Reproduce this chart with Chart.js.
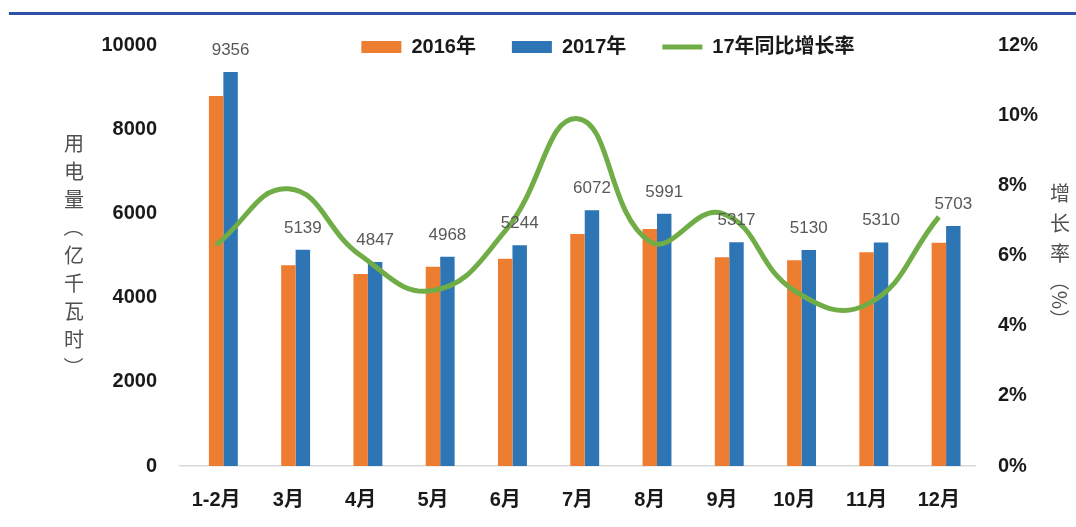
<!DOCTYPE html>
<html>
<head>
<meta charset="utf-8">
<script src="https://cdn.jsdelivr.net/npm/chart.js@4.4.0/dist/chart.umd.min.js"></script>
<style>
    html, body { margin: 0; padding: 0; background: #fff; }
    #contenedor { position: relative; width: 1076px; height: 527px; }
    #lineaSuperior { position: absolute; left: 9px; right: 0; top: 12px; height: 0; border-top: 3px solid #3050a8; }
    canvas { position: absolute; left: 0; top: 0; }
</style>
</head>
<body>
<div id="contenedor">
    <div id="lineaSuperior"></div>
    <canvas id="graficoConsumo" width="1076" height="527"></canvas>
</div>
<script>
// Datos
const meses = ['1-2月', '3月', '4月', '5月', '6月', '7月', '8月', '9月', '10月', '11月', '12月'];
const consumo2016 = [8790, 4770, 4560, 4730, 4920, 5510, 5630, 4960, 4890, 5080, 5300];
const consumo2017 = [9356, 5139, 4847, 4968, 5244, 6072, 5991, 5317, 5130, 5310, 5703];
const crecimiento17 = [6.3, 7.9, 6.0, 5.0, 6.7, 9.9, 6.4, 7.2, 5.0, 4.6, 7.1]; // %
const etiquetas = ['2016年', '2017年', '17年同比增长率'];
const tituloIzquierdo = '用电量（亿千瓦时）';
const tituloDerecho = '增长率';
const tituloDerechoUnidad = '（%）';

const colorNaranja = '#ED7D31';
const colorAzul = '#2E75B6';
const colorVerde = '#70AD47';
const fuenteNumeros = "'Liberation Sans Narrow', 'Liberation Sans', 'Noto Sans CJK SC', sans-serif";
const fuenteCJK = "'Noto Sans CJK SC', sans-serif";

// Escribe un texto en columna, girando los paréntesis como en el original
function escribirVertical(ctx, texto, x, y, paso) {
    for (const letra of texto) {
        if ('（）'.includes(letra)) {
            ctx.save();
            ctx.translate(x, y);
            ctx.rotate(Math.PI / 2);
            ctx.fillText(letra, 0, 0);
            ctx.restore();
        } else {
            ctx.fillText(letra, x, y);
        }
        y += paso;
    }
}

const titulosEjes = {
    id: 'titulosEjes',
    afterDraw(chart) {
        const ctx = chart.ctx;
        ctx.save();
        ctx.fillStyle = '#505050';
        ctx.font = '20px ' + fuenteCJK;
        ctx.textAlign = 'center';
        ctx.textBaseline = 'middle';
        escribirVertical(ctx, tituloIzquierdo, 74, 143, 28);
        escribirVertical(ctx, tituloDerecho, 1060, 193, 30);
        ctx.translate(1060, 300);
        ctx.rotate(Math.PI / 2);
        ctx.fillText(tituloDerechoUnidad, 0, 0);
        ctx.restore();
    }
};

const etiquetasDatos = {
    id: 'etiquetasDatos',
    afterDatasetsDraw(chart) {
        const ctx = chart.ctx;
        const meta = chart.getDatasetMeta(2);
        ctx.save();
        ctx.fillStyle = '#595959';
        ctx.font = '17px ' + fuenteNumeros;
        ctx.textAlign = 'center';
        ctx.textBaseline = 'alphabetic';
        meta.data.forEach((barra, i) => {
            ctx.fillText(String(consumo2017[i]), barra.x, barra.y - 17);
        });
        ctx.restore();
    }
};

// La leyenda casi no ocupa alto en el layout; luego se coloca a la altura del primer valor del eje
const moverLeyenda = {
    id: 'moverLeyenda',
    afterLayout(chart) {
        const leyenda = chart.legend;
        leyenda.top = 1;
        leyenda.bottom = 1 + 70;
        leyenda.left += 70;
        leyenda.right += 70;
    }
};

const ctx = document.getElementById('graficoConsumo').getContext('2d');
new Chart(ctx, {
    data: {
        labels: meses,
        datasets: [
            {
                // hueco vacío a la izquierda de cada grupo
                type: 'bar',
                label: '',
                data: meses.map(() => null),
                backgroundColor: 'rgba(0,0,0,0)',
                yAxisID: 'y',
                order: 2
            },
            {
                type: 'bar',
                label: etiquetas[0],
                data: consumo2016,
                backgroundColor: colorNaranja,
                borderWidth: 0,
                pointStyle: 'rect',
                yAxisID: 'y',
                order: 2
            },
            {
                type: 'bar',
                label: etiquetas[1],
                data: consumo2017,
                backgroundColor: colorAzul,
                borderWidth: 0,
                pointStyle: 'rect',
                yAxisID: 'y',
                order: 2
            },
            {
                type: 'line',
                label: etiquetas[2],
                data: crecimiento17,
                borderColor: colorVerde,
                backgroundColor: colorVerde,
                borderWidth: 5,
                pointRadius: 0,
                pointStyle: 'line',
                tension: 0.45,
                yAxisID: 'y1',
                order: 0
            }
        ]
    },
    options: {
        responsive: false,
        animation: false,
        layout: { padding: { top: 44, left: 0, right: 0, bottom: 0 } },
        datasets: {
            bar: { categoryPercentage: 0.6, barPercentage: 1 }
        },
        plugins: {
            tooltip: { enabled: false },
            legend: {
                position: 'top',
                align: 'center',
                maxHeight: 1,
                labels: {
                    filter: (item) => item.text !== '',
                    sort: (a, b) => a.datasetIndex - b.datasetIndex,
                    usePointStyle: true,
                    pointStyleWidth: 40,
                    boxHeight: 12,
                    padding: 36,
                    color: '#1a1a1a',
                    font: { size: 20, family: fuenteNumeros, weight: 'bold' }
                }
            }
        },
        scales: {
            x: {
                grid: { display: false, drawTicks: false },
                border: { display: true, color: '#d9d9d9', width: 1.5 },
                ticks: {
                    color: '#1a1a1a',
                    padding: 22,
                    font: { size: 20, family: fuenteNumeros, weight: 'bold' }
                },
                afterFit(escala) { escala.height = 61; }
            },
            y: {
                position: 'left',
                min: 0,
                max: 10000,
                grid: { display: false, drawTicks: false },
                border: { display: false },
                ticks: {
                    stepSize: 2000,
                    color: '#1a1a1a',
                    padding: 23,
                    font: { size: 20, family: fuenteNumeros, weight: 'bold' },
                    callback: (valor) => String(valor)
                },
                afterFit(escala) { escala.width = 180; }
            },
            y1: {
                position: 'right',
                min: 0,
                max: 12,
                grid: { display: false, drawTicks: false },
                border: { display: false },
                ticks: {
                    stepSize: 2,
                    color: '#1a1a1a',
                    padding: 23,
                    font: { size: 20, family: fuenteNumeros, weight: 'bold' },
                    callback: (valor) => valor + '%'
                },
                afterFit(escala) { escala.width = 101; }
            }
        }
    },
    plugins: [titulosEjes, etiquetasDatos, moverLeyenda]
});
</script>
</body>
</html>
